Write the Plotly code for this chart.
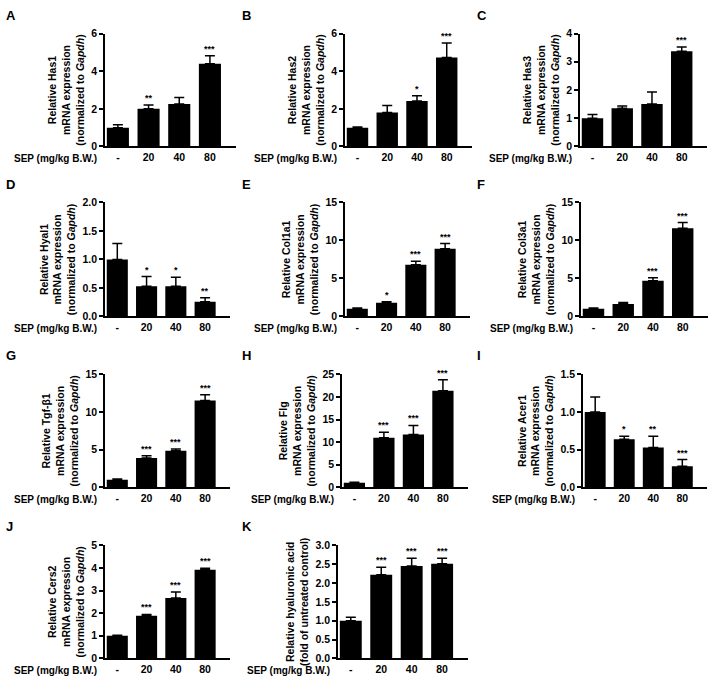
import plotly.graph_objects as go

W, H = 709, 683

groups = ["-", "20", "40", "80"]
xlabel = "SEP (mg/kg B.W.)"

letters = ["A", "B", "C", "D", "E", "F", "G", "H", "I", "J", "K"]

ytitles = [
    "Relative Has1<br>mRNA expression<br>(normalized to <i>Gapdh</i>)",
    "Relative Has2<br>mRNA expression<br>(normalized to <i>Gapdh</i>)",
    "Relative Has3<br>mRNA expression<br>(normalized to <i>Gapdh</i>)",
    "Relative Hyal1<br>mRNA expression<br>(normalized to <i>Gapdh</i>)",
    "Relative Col1a1<br>mRNA expression<br>(normalized to <i>Gapdh</i>)",
    "Relative Col3a1<br>mRNA expression<br>(normalized to <i>Gapdh</i>)",
    "Relative Tgf-β1<br>mRNA expression<br>(normalized to <i>Gapdh</i>)",
    "Relative Flg<br>mRNA expression<br>(normalized to <i>Gapdh</i>)",
    "Relative Acer1<br>mRNA expression<br>(normalized to <i>Gapdh</i>)",
    "Relative Cers2<br>mRNA expression<br>(normalized to <i>Gapdh</i>)",
    "Relative hyaluronic acid<br>(fold of untreated control)",
]

means_A = [1.0, 2.0, 2.25, 4.4]
errs_A = [0.15, 0.2, 0.35, 0.42]
stars_A = ["", "**", "", "***"]

means_B = [1.0, 1.8, 2.42, 4.72]
errs_B = [0.03, 0.38, 0.27, 0.78]
stars_B = ["", "", "*", "***"]

means_C = [1.0, 1.35, 1.5, 3.37]
errs_C = [0.13, 0.08, 0.43, 0.15]
stars_C = ["", "", "", "***"]

means_D = [1.0, 0.53, 0.53, 0.26]
errs_D = [0.28, 0.17, 0.16, 0.07]
stars_D = ["", "*", "*", "**"]

means_E = [1.0, 1.8, 6.8, 8.9]
errs_E = [0.1, 0.15, 0.45, 0.7]
stars_E = ["", "*", "***", "***"]

means_F = [1.0, 1.65, 4.7, 11.6]
errs_F = [0.1, 0.2, 0.4, 0.75]
stars_F = ["", "", "***", "***"]

means_G = [1.0, 3.9, 4.85, 11.55]
errs_G = [0.1, 0.3, 0.25, 0.75]
stars_G = ["", "***", "***", "***"]

means_H = [1.0, 11.0, 11.7, 21.4]
errs_H = [0.15, 1.2, 2.0, 2.4]
stars_H = ["", "***", "***", "***"]

means_I = [1.0, 0.64, 0.53, 0.28]
errs_I = [0.2, 0.04, 0.15, 0.09]
stars_I = ["", "*", "**", "***"]

means_J = [1.0, 1.88, 2.67, 3.92]
errs_J = [0.02, 0.06, 0.27, 0.07]
stars_J = ["", "***", "***", "***"]

means_K = [1.0, 2.22, 2.45, 2.51]
errs_K = [0.09, 0.2, 0.21, 0.15]
stars_K = ["", "***", "***", "***"]

means = [means_A, means_B, means_C, means_D, means_E, means_F, means_G, means_H, means_I, means_J, means_K]
errs = [errs_A, errs_B, errs_C, errs_D, errs_E, errs_F, errs_G, errs_H, errs_I, errs_J, errs_K]
stars = [stars_A, stars_B, stars_C, stars_D, stars_E, stars_F, stars_G, stars_H, stars_I, stars_J, stars_K]

# y axis: (max, step, format)
yaxes_spec = [
    (6, 2, ""), (6, 2, ""), (4, 1, ""), (2.0, 0.5, ".1f"), (15, 5, ""), (15, 5, ""),
    (15, 5, ""), (25, 5, ""), (1.5, 0.5, ".1f"), (5, 1, ""), (3.0, 0.5, ".1f"),
]

# panel pixel boxes: left, right, top, bottom (layout)
boxes = [
    (105, 236, 28, 143), (345, 472, 28, 143), (580, 707, 28, 143),
    (105, 230, 200, 316), (345, 470, 200, 316), (581, 708, 200, 316),
    (105, 230, 375, 490), (342, 468, 375, 490), (583, 707, 375, 490),
    (105, 230, 549, 664), (338, 468, 549, 664),
]
letter_pos = [
    (4, 10), (240, 10), (475, 10),
    (4, 182), (240, 182), (475, 182),
    (4, 356), (240, 356), (475, 356),
    (4, 530), (240, 530),
]

FONT = "Liberation Sans, Arial, sans-serif"

fig = go.Figure()
layout = dict(
    width=W, height=H, margin=dict(l=0, r=0, t=0, b=0),
    paper_bgcolor="white", plot_bgcolor="white", showlegend=False,
    font=dict(family=FONT, color="black", size=10, weight="bold"),
    bargap=0.28,
)
annotations = []

for i in range(11):
    n = "" if i == 0 else str(i + 1)
    xa, ya = "x" + n, "y" + n
    l, r, t, b = boxes[i]
    xs = [0, 1, 2, 3]
    fig.add_trace(go.Bar(
        x=xs, y=means[i], xaxis=xa, yaxis=ya,
        marker=dict(color="black", line=dict(width=0)),
        error_y=dict(type="data", array=errs[i], arrayminus=[0] * 4, symmetric=False,
                     color="black", thickness=1.5, width=5),
        hoverinfo="skip",
    ))
    ymax, step, fmt = yaxes_spec[i]
    nt = int(round(ymax / step))
    tv = [k * step for k in range(nt + 1)]
    layout["xaxis" + n] = dict(
        domain=[l / W, r / W], anchor=ya, range=[-0.42, 3.85],
        tickvals=xs, ticktext=groups, showline=True, linecolor="black", linewidth=1.5,
        ticks="", showgrid=False, zeroline=False, fixedrange=True,
        tickfont=dict(size=10.5, family=FONT, weight="bold"),
    )
    layout["yaxis" + n] = dict(
        domain=[1 - b / H, 1 - t / H], anchor=xa, range=[0, ymax],
        tickvals=tv, tickformat=fmt, showline=True, linecolor="black", linewidth=1.5,
        ticks="outside", ticklen=4, tickwidth=1.5, tickcolor="black",
        showgrid=False, zeroline=False, fixedrange=True,
        tickfont=dict(size=10.5, family=FONT, weight="bold"),
        title=dict(text=ytitles[i], font=dict(size=10.5, family=FONT, weight="bold"), standoff=5),
    )
    # significance stars
    for j in range(4):
        if stars[i][j]:
            annotations.append(dict(
                x=j, y=means[i][j] + errs[i][j], xref=xa, yref=ya,
                text=stars[i][j], showarrow=False, yanchor="bottom", yshift=0,
                font=dict(size=9, family=FONT, weight="bold"),
            ))
    # x label
    annotations.append(dict(
        x=(l - 6) / W, y=1 - (b + 12) / H, xref="paper", yref="paper",
        text=xlabel, showarrow=False, xanchor="right", yanchor="middle",
        font=dict(size=10, family=FONT, weight="bold"),
    ))
    lx, ly = letter_pos[i]
    annotations.append(dict(
        x=lx / W, y=1 - ly / H, xref="paper", yref="paper",
        text=letters[i], showarrow=False, xanchor="left", yanchor="middle",
        font=dict(size=13, family=FONT, weight="bold"),
    ))

layout["annotations"] = annotations
fig.update_layout(**layout)
fig.write_html("out.html")
